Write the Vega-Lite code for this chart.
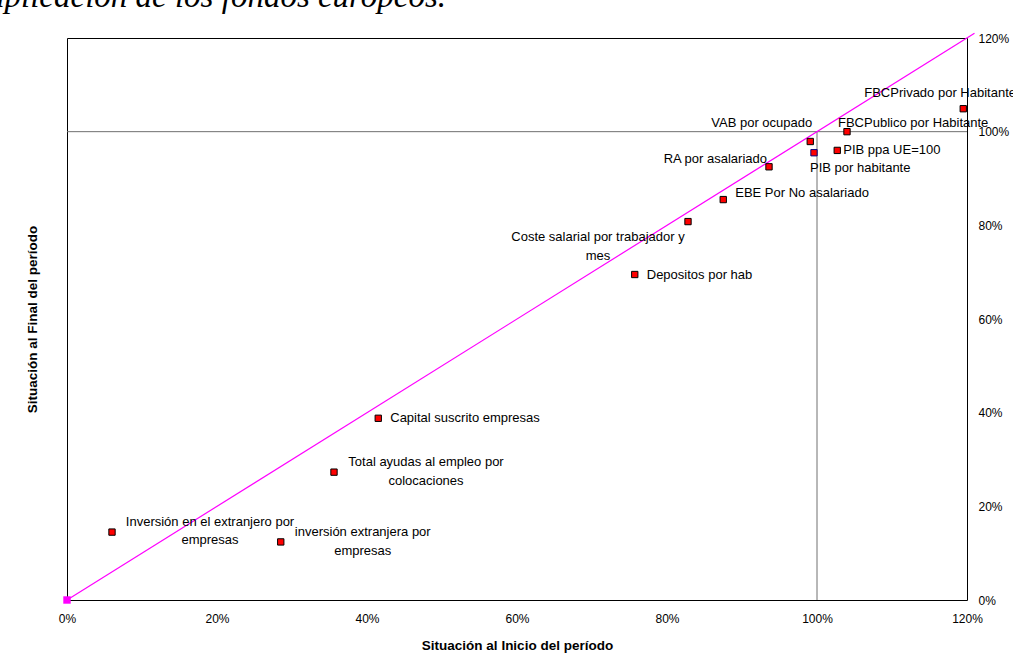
{
  "$schema": "https://vega.github.io/schema/vega-lite/v6.json",
  "width": 900,
  "height": 562,
  "autosize": {"type": "none"},
  "padding": {"left": 67, "top": 38, "right": 46, "bottom": 63},
  "background": "white",
  "title": {
    "text": "aplicación de los fondos europeos.",
    "font": "Liberation Serif",
    "fontStyle": "italic",
    "fontWeight": "normal",
    "fontSize": 33,
    "color": "black",
    "anchor": "start",
    "frame": "group",
    "baseline": "alphabetic",
    "dx": -79,
    "dy": 19,
    "offset": 10
  },
  "config": {
    "view": {"stroke": "black", "strokeWidth": 1},
    "font": "Liberation Sans",
    "text": {"font": "Liberation Sans", "fontSize": 13, "color": "black"}
  },
  "datasets": {
    "pts": [
      {"name": "FBCPrivado por Habitante", "inicio": 119.5, "final": 104.9, "label": "FBCPrivado por Habitante"},
      {"name": "FBCPublico por Habitante", "inicio": 104.0, "final": 100.0, "label": "FBCPublico por Habitante"},
      {"name": "VAB por ocupado", "inicio": 99.1, "final": 97.9, "label": "VAB por ocupado"},
      {"name": "PIB por habitante", "inicio": 99.6, "final": 95.5, "label": "PIB por habitante"},
      {"name": "PIB ppa UE=100", "inicio": 102.7, "final": 96.0, "label": "PIB ppa UE=100"},
      {"name": "RA por asalariado", "inicio": 93.6, "final": 92.5, "label": "RA por asalariado"},
      {"name": "EBE Por No asalariado", "inicio": 87.5, "final": 85.5, "label": "EBE Por No asalariado"},
      {"name": "Coste salarial por trabajador y mes", "inicio": 82.8, "final": 80.8, "label": "Coste salarial por trabajador y\nmes"},
      {"name": "Depositos por hab", "inicio": 75.7, "final": 69.5, "label": "Depositos por hab"},
      {"name": "Capital suscrito empresas", "inicio": 41.5, "final": 38.8, "label": "Capital suscrito empresas"},
      {"name": "Total ayudas al empleo por colocaciones", "inicio": 35.6, "final": 27.3, "label": "Total ayudas al empleo por\ncolocaciones"},
      {"name": "Inversión en el extranjero por empresas", "inicio": 6.0, "final": 14.5, "label": "Inversión en el extranjero por\nempresas"},
      {"name": "inversión extranjera por empresas", "inicio": 28.5, "final": 12.4, "label": "inversión extranjera por\nempresas"}
    ],
    "diag": [
      {"inicio": 0, "final": 0},
      {"inicio": 121, "final": 121}
    ],
    "ref": [
      {"inicio": 100, "final": 100}
    ]
  },
  "resolve": {"axis": {"x": "independent", "y": "independent"}},
  "layer": [
    {
      "data": {"name": "ref"},
      "mark": {"type": "rule", "color": "#707070", "strokeWidth": 1},
      "encoding": {
        "x": {"field": "inicio", "type": "quantitative", "scale": {"domain": [0, 120], "nice": false, "zero": true},
          "axis": {"orient": "bottom", "values": [0, 20, 40, 60, 80, 100, 120], "labelExpr": "datum.value + '%'", "grid": false, "ticks": false, "domain": false, "labelFlush": false, "labelOverlap": false,
            "labelFont": "Liberation Sans", "labelFontSize": 12, "labelColor": "black", "labelPadding": 13,
            "title": "Situación al Inicio del período", "titleFont": "Liberation Sans", "titleFontSize": 13.5, "titleFontWeight": "bold", "titleColor": "black", "titlePadding": 14}},
        "y": {"field": "final", "type": "quantitative", "scale": {"domain": [0, 120], "nice": false, "zero": true},
          "axis": {"orient": "left", "labels": false, "ticks": false, "domain": false, "grid": false,
            "title": "Situación al Final del período", "titleFont": "Liberation Sans", "titleFontSize": 13.5, "titleFontWeight": "bold", "titleColor": "black", "titlePadding": 28}}
      }
    },
    {
      "data": {"name": "ref"},
      "mark": {"type": "rule", "color": "#707070", "strokeWidth": 1},
      "encoding": {
        "y": {"field": "final", "type": "quantitative", "scale": {"domain": [0, 120], "nice": false, "zero": true},
          "axis": {"orient": "right", "values": [0, 20, 40, 60, 80, 100, 120], "labelExpr": "datum.value + '%'", "grid": false, "ticks": false, "domain": false, "labelFlush": false, "labelOverlap": false,
            "labelFont": "Liberation Sans", "labelFontSize": 12, "labelColor": "black", "labelPadding": 11, "title": null}}
      }
    },
    {
      "data": {"name": "diag"},
      "mark": {"type": "line", "color": "#ff00ff", "strokeWidth": 1.2, "clip": false},
      "encoding": {
        "x": {"field": "inicio", "type": "quantitative", "axis": null},
        "y": {"field": "final", "type": "quantitative", "axis": null}
      }
    },
    {
      "data": {"name": "diag"},
      "transform": [{"filter": "datum.inicio === 0"}],
      "mark": {"type": "square", "filled": true, "color": "#ff00ff", "size": 55, "opacity": 1, "clip": false},
      "encoding": {
        "x": {"field": "inicio", "type": "quantitative", "axis": null},
        "y": {"field": "final", "type": "quantitative", "axis": null}
      }
    },
    {
      "data": {"name": "pts"},
      "mark": {"type": "square", "filled": true, "fill": "#ff0000", "size": 40, "strokeWidth": 1, "opacity": 1},
      "encoding": {
        "x": {"field": "inicio", "type": "quantitative", "axis": null},
        "y": {"field": "final", "type": "quantitative", "axis": null},
        "stroke": {"condition": {"test": "datum.name === 'PIB por habitante'", "value": "#000080"}, "value": "black"}
      }
    },
    {
      "data": {"name": "pts"},
      "transform": [{"filter": "datum.name === 'FBCPrivado por Habitante'"}],
      "mark": {"type": "text", "align": "left", "baseline": "middle", "dx": -99, "dy": -16, "lineBreak": "\n"},
      "encoding": {"x": {"field": "inicio", "type": "quantitative", "axis": null}, "y": {"field": "final", "type": "quantitative", "axis": null}, "text": {"field": "label"}}
    },
    {
      "data": {"name": "pts"},
      "transform": [{"filter": "datum.name === 'FBCPublico por Habitante'"}],
      "mark": {"type": "text", "align": "left", "baseline": "middle", "dx": -9, "dy": -9, "lineBreak": "\n"},
      "encoding": {"x": {"field": "inicio", "type": "quantitative", "axis": null}, "y": {"field": "final", "type": "quantitative", "axis": null}, "text": {"field": "label"}}
    },
    {
      "data": {"name": "pts"},
      "transform": [{"filter": "datum.name === 'VAB por ocupado'"}],
      "mark": {"type": "text", "align": "right", "baseline": "middle", "dx": 2, "dy": -19, "lineBreak": "\n"},
      "encoding": {"x": {"field": "inicio", "type": "quantitative", "axis": null}, "y": {"field": "final", "type": "quantitative", "axis": null}, "text": {"field": "label"}}
    },
    {
      "data": {"name": "pts"},
      "transform": [{"filter": "datum.name === 'PIB por habitante'"}],
      "mark": {"type": "text", "align": "left", "baseline": "middle", "dx": -4, "dy": 15, "lineBreak": "\n"},
      "encoding": {"x": {"field": "inicio", "type": "quantitative", "axis": null}, "y": {"field": "final", "type": "quantitative", "axis": null}, "text": {"field": "label"}}
    },
    {
      "data": {"name": "pts"},
      "transform": [{"filter": "datum.name === 'PIB ppa UE=100'"}],
      "mark": {"type": "text", "align": "left", "baseline": "middle", "dx": 6, "dy": 0, "lineBreak": "\n"},
      "encoding": {"x": {"field": "inicio", "type": "quantitative", "axis": null}, "y": {"field": "final", "type": "quantitative", "axis": null}, "text": {"field": "label"}}
    },
    {
      "data": {"name": "pts"},
      "transform": [{"filter": "datum.name === 'RA por asalariado'"}],
      "mark": {"type": "text", "align": "right", "baseline": "middle", "dx": -2, "dy": -8, "lineBreak": "\n"},
      "encoding": {"x": {"field": "inicio", "type": "quantitative", "axis": null}, "y": {"field": "final", "type": "quantitative", "axis": null}, "text": {"field": "label"}}
    },
    {
      "data": {"name": "pts"},
      "transform": [{"filter": "datum.name === 'EBE Por No asalariado'"}],
      "mark": {"type": "text", "align": "left", "baseline": "middle", "dx": 12, "dy": -7, "lineBreak": "\n"},
      "encoding": {"x": {"field": "inicio", "type": "quantitative", "axis": null}, "y": {"field": "final", "type": "quantitative", "axis": null}, "text": {"field": "label"}}
    },
    {
      "data": {"name": "pts"},
      "transform": [{"filter": "datum.name === 'Coste salarial por trabajador y mes'"}],
      "mark": {"type": "text", "align": "center", "baseline": "middle", "dx": -90, "dy": 15, "lineHeight": 19, "lineBreak": "\n"},
      "encoding": {"x": {"field": "inicio", "type": "quantitative", "axis": null}, "y": {"field": "final", "type": "quantitative", "axis": null}, "text": {"field": "label"}}
    },
    {
      "data": {"name": "pts"},
      "transform": [{"filter": "datum.name === 'Depositos por hab' || datum.name === 'Capital suscrito empresas'"}],
      "mark": {"type": "text", "align": "left", "baseline": "middle", "dx": 12, "dy": 0, "lineBreak": "\n"},
      "encoding": {"x": {"field": "inicio", "type": "quantitative", "axis": null}, "y": {"field": "final", "type": "quantitative", "axis": null}, "text": {"field": "label"}}
    },
    {
      "data": {"name": "pts"},
      "transform": [{"filter": "datum.name === 'Total ayudas al empleo por colocaciones'"}],
      "mark": {"type": "text", "align": "center", "baseline": "middle", "dx": 92, "dy": -10, "lineHeight": 19, "lineBreak": "\n"},
      "encoding": {"x": {"field": "inicio", "type": "quantitative", "axis": null}, "y": {"field": "final", "type": "quantitative", "axis": null}, "text": {"field": "label"}}
    },
    {
      "data": {"name": "pts"},
      "transform": [{"filter": "datum.name === 'Inversión en el extranjero por empresas'"}],
      "mark": {"type": "text", "align": "center", "baseline": "middle", "dx": 98, "dy": -10, "lineHeight": 18, "lineBreak": "\n"},
      "encoding": {"x": {"field": "inicio", "type": "quantitative", "axis": null}, "y": {"field": "final", "type": "quantitative", "axis": null}, "text": {"field": "label"}}
    },
    {
      "data": {"name": "pts"},
      "transform": [{"filter": "datum.name === 'inversión extranjera por empresas'"}],
      "mark": {"type": "text", "align": "center", "baseline": "middle", "dx": 82, "dy": -10, "lineHeight": 19, "lineBreak": "\n"},
      "encoding": {"x": {"field": "inicio", "type": "quantitative", "axis": null}, "y": {"field": "final", "type": "quantitative", "axis": null}, "text": {"field": "label"}}
    }
  ]
}
